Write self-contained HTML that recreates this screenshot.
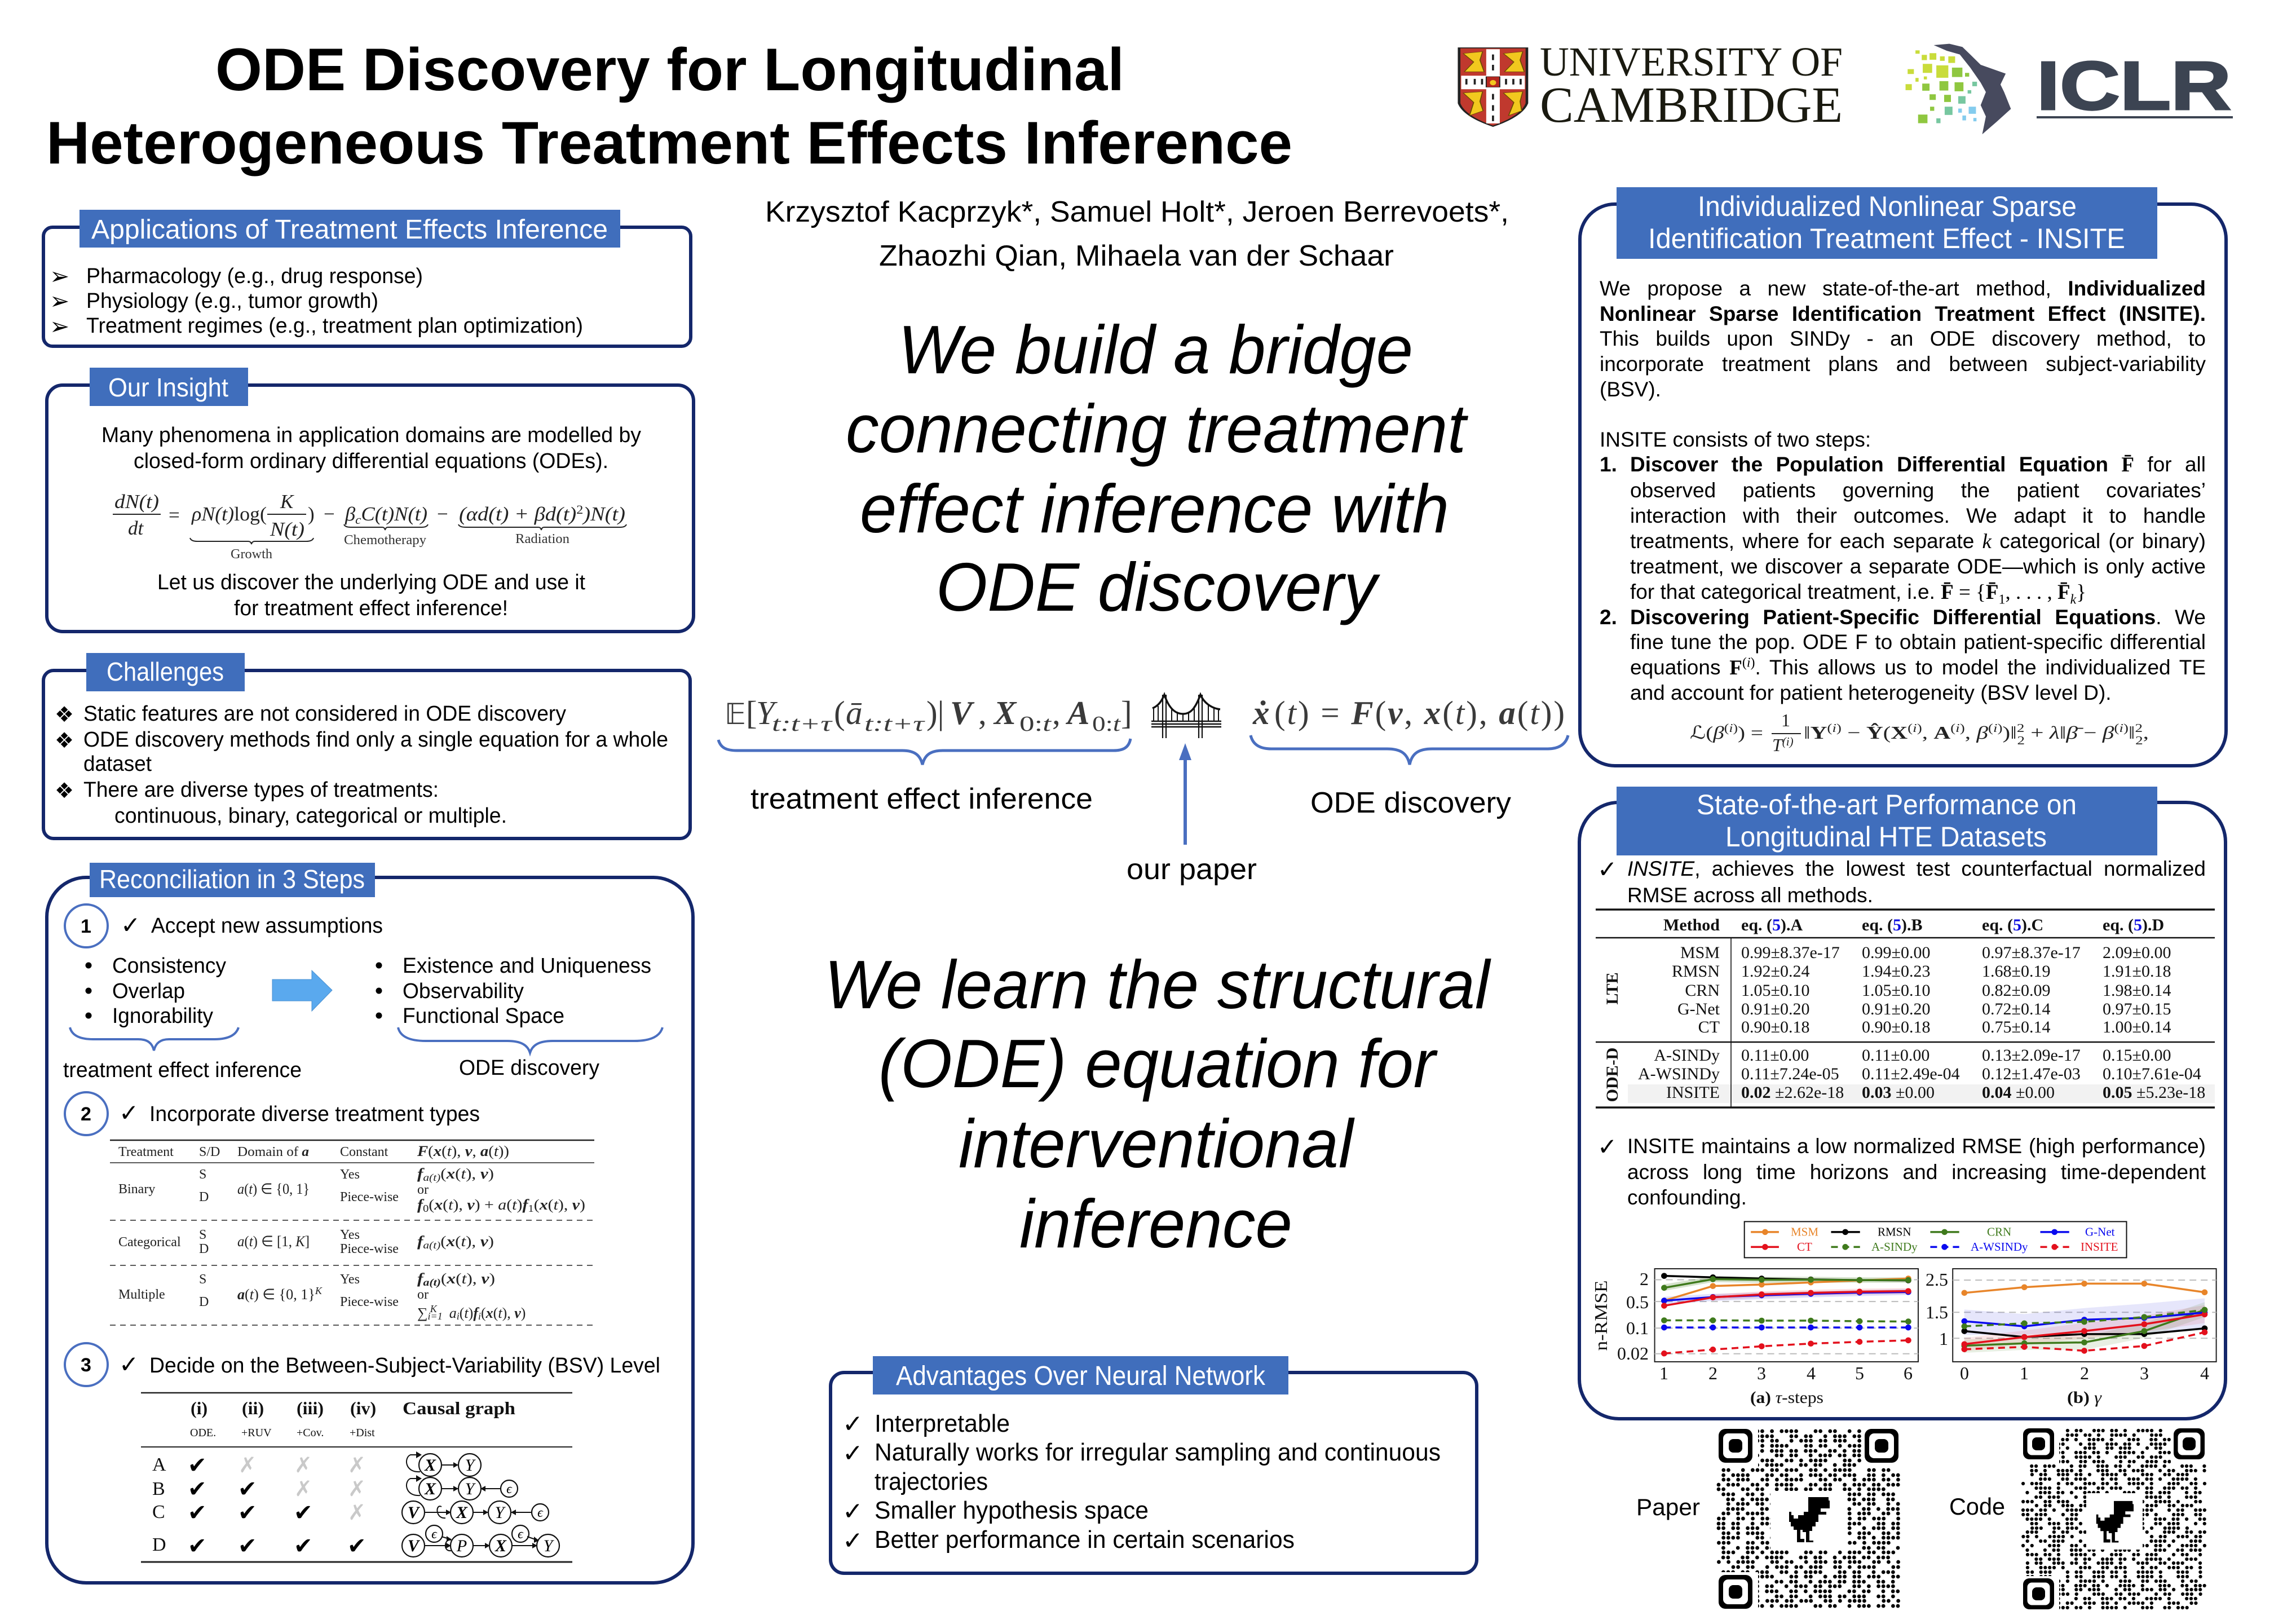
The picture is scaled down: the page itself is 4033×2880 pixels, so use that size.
<!DOCTYPE html>
<html><head><meta charset="utf-8"><title>ODE Discovery for Longitudinal Heterogeneous Treatment Effects Inference</title>
<style>
html,body{margin:0;padding:0;background:#fff}
#p{position:relative;width:4033px;height:2880px;overflow:hidden;background:#fff;font-family:"Liberation Sans",sans-serif;color:#000}
svg{position:absolute;left:0;top:0}
.j{position:absolute;font-size:37px;line-height:37px;height:37px;white-space:nowrap;text-align:justify;text-align-last:justify}
.l{text-align:left;text-align-last:left}
.m{font-family:"Liberation Serif",serif}
text{font-family:"Liberation Sans",sans-serif}
.f text,text.f{font-family:"Liberation Serif",serif}
.w{fill:#fff}
.d{font-family:"DejaVu Sans",sans-serif !important}
.pn{fill:#fff;stroke:#14276b;stroke-width:6}
.hd{fill:#406ebc}
.br{fill:none;stroke:#4a6fc0;stroke-width:4}
.i{font-style:italic}.b{font-weight:bold}
</style></head><body><div id="p">
<svg width="4033" height="2880" viewBox="0 0 4033 2880" xmlns="http://www.w3.org/2000/svg">
<defs>
<marker id="mo" markerUnits="userSpaceOnUse" markerWidth="20" markerHeight="30" refX="10" refY="15"><ellipse cx="10" cy="15" rx="7" ry="10" fill="#e8852a"/></marker>
<marker id="mk" markerUnits="userSpaceOnUse" markerWidth="20" markerHeight="30" refX="10" refY="15"><ellipse cx="10" cy="15" rx="7" ry="10" fill="#000"/></marker>
<marker id="mg" markerUnits="userSpaceOnUse" markerWidth="20" markerHeight="30" refX="10" refY="15"><ellipse cx="10" cy="15" rx="7" ry="10" fill="#3f7a1c"/></marker>
<marker id="mb" markerUnits="userSpaceOnUse" markerWidth="20" markerHeight="30" refX="10" refY="15"><ellipse cx="10" cy="15" rx="7" ry="10" fill="#0a0aee"/></marker>
<marker id="mr" markerUnits="userSpaceOnUse" markerWidth="20" markerHeight="30" refX="10" refY="15"><ellipse cx="10" cy="15" rx="7" ry="10" fill="#e3101c"/></marker>
<path id="qa" d="M0 0H319" fill="none" stroke="#000" stroke-width="6.8" stroke-linecap="round" stroke-dasharray="0 8.6 0 17.2 0 8.6 0 8.6 0 25.8 0 8.6 0 17.2 0 17.2 0 8.6 0 8.6 0 8.6 0 34.4 0 8.6 0 17.2 0 8.6 0 25.8 0 17.2 0 8.6 0 8.6 0 17.2"/>
<path id="qb" d="M0 0H322" fill="none" stroke="#000" stroke-width="6.2" stroke-linecap="round" stroke-dasharray="0 7.85 0 7.85 0 23.55 0 7.85 0 15.7 0 7.85 0 7.85 0 31.4 0 15.7 0 7.85 0 23.55 0 7.85 0 7.85 0 15.7 0 7.85 0 15.7 0 23.55 0 7.85 0 7.85 0 7.85 0 15.7 0 31.4"/>
<path id="dino" d="M34 0H70V6H72V20H56V26H66V31H52V44H47V52H41V60H36V77H43V80H30V62H24V58H20V74H27V80H14V58H8V52H3V44H0V26H4V32H8V38H16V32H26V26H34Z"/>
</defs>

<!-- Title -->
<text x="382" y="160" font-size="107" class="b" textLength="1612" lengthAdjust="spacingAndGlyphs">ODE Discovery for Longitudinal</text>
<text x="82" y="290" font-size="107" class="b" textLength="2210" lengthAdjust="spacingAndGlyphs">Heterogeneous Treatment Effects Inference</text>

<!-- Logos -->
<g transform="translate(2560,40) scale(.925,.333)">
<path d="M30 135H160V430Q150 500 95 552Q40 500 30 430Z" fill="#c0392e" stroke="#222" stroke-width="5"/>
<rect x="82" y="142" width="26" height="395" fill="#fff"/><rect x="34" y="283" width="122" height="72" fill="#fff"/>
<g fill="#f2c81e" stroke="#6b4e00" stroke-width="2">
<path d="M38 165L75 155L70 200L78 262L40 262L58 210Z"/><path d="M115 165L152 155L147 200L155 262L117 262L135 210Z"/>
<path d="M38 375L75 368L70 420L76 470L50 495L58 425Z"/><path d="M115 375L152 368L147 420L150 470L125 495L135 425Z"/>
</g>
<rect x="82" y="288" width="26" height="56" fill="#b5271f" stroke="#222" stroke-width="2"/><ellipse cx="95" cy="320" rx="6" ry="14" fill="#f2c81e"/>
<g fill="#222"><rect x="42" y="300" width="4" height="30"/><rect x="58" y="300" width="4" height="30"/><rect x="72" y="300" width="4" height="30"/><rect x="118" y="300" width="4" height="30"/><rect x="132" y="300" width="4" height="30"/><rect x="146" y="300" width="4" height="30"/><rect x="93" y="170" width="4" height="30"/><rect x="93" y="225" width="4" height="30"/><rect x="93" y="380" width="4" height="30"/><rect x="93" y="440" width="4" height="30"/><rect x="93" y="495" width="4" height="30"/></g>
<path d="M940 120L970 113L995 130L1010 170L1030 225L1078 272L1068 330L1075 370L1088 460L1060 530L1033 595L1040 500L1030 440L1040 370L1030 320L1010 240L990 170L965 150Z" fill="#474a5e"/>
<g fill="#c9dc3a"><rect x="905" y="148" width="8" height="18"/><rect x="917" y="172" width="10" height="28"/><rect x="932" y="163" width="13" height="35"/><rect x="952" y="180" width="9" height="24"/><rect x="968" y="180" width="13" height="35"/><rect x="919" y="220" width="18" height="48"/><rect x="890" y="248" width="12" height="26"/><rect x="945" y="228" width="23" height="66"/><rect x="886" y="328" width="12" height="32"/><rect x="905" y="295" width="6" height="20"/><rect x="921" y="287" width="6" height="16"/></g>
<g fill="#8fc740"><rect x="975" y="240" width="20" height="50"/><rect x="918" y="325" width="14" height="38"/><rect x="951" y="312" width="17" height="50"/><rect x="980" y="318" width="17" height="48"/><rect x="932" y="382" width="12" height="30"/><rect x="960" y="385" width="13" height="38"/><rect x="910" y="490" width="18" height="46"/><rect x="933" y="448" width="8" height="22"/><rect x="1000" y="268" width="8" height="20"/></g>
<g fill="#77c7a0"><rect x="987" y="392" width="14" height="40"/><rect x="961" y="448" width="15" height="44"/><rect x="945" y="510" width="8" height="26"/><rect x="1014" y="315" width="9" height="24"/><rect x="1005" y="360" width="7" height="18"/></g>
<g fill="#84ccee"><rect x="1007" y="448" width="14" height="38"/><rect x="987" y="458" width="7" height="22"/><rect x="995" y="495" width="7" height="26"/><rect x="1016" y="508" width="6" height="18"/></g>
</g>
<text x="2731" y="134" font-size="73" class="f" fill="#1a1a10" textLength="537" lengthAdjust="spacingAndGlyphs">UNIVERSITY OF</text>
<text x="2731" y="216" font-size="90" class="f" fill="#1a1a10" textLength="537" lengthAdjust="spacingAndGlyphs">CAMBRIDGE</text>
<text x="3612" y="194" font-size="122" class="b" fill="#3c4452" stroke="#3c4452" stroke-width="3" textLength="345" lengthAdjust="spacingAndGlyphs">ICLR</text>
<rect x="3612" y="206" width="348" height="4" fill="#3c4452"/>

<!-- Panel 1 -->
<rect class="pn" x="77" y="403" width="1148" height="211" rx="16"/>
<rect class="hd" x="141" y="372" width="959" height="67"/>
<text class="w" x="162" y="423" font-size="48" textLength="916" lengthAdjust="spacingAndGlyphs">Applications of Treatment Effects Inference</text>
<g><text class="d" font-size="42" x="88" y="504">➢</text><text class="d" font-size="42" x="88" y="548">➢</text><text class="d" font-size="42" x="88" y="593">➢</text></g>
<g font-size="38"><text x="153" y="502" textLength="597" lengthAdjust="spacingAndGlyphs">Pharmacology (e.g., drug response)</text>
<text x="153" y="546" textLength="518" lengthAdjust="spacingAndGlyphs">Physiology (e.g., tumor growth)</text>
<text x="153" y="590" textLength="881" lengthAdjust="spacingAndGlyphs">Treatment regimes (e.g., treatment plan optimization)</text></g>

<!-- Panel 2 -->
<rect class="pn" x="83" y="683" width="1147" height="437" rx="28"/>
<rect class="hd" x="159" y="652" width="281" height="68"/>
<text class="w" x="192" y="703" font-size="46" textLength="213" lengthAdjust="spacingAndGlyphs">Our Insight</text>
<g font-size="38"><text x="180" y="784" textLength="957" lengthAdjust="spacingAndGlyphs">Many phenomena in application domains are modelled by</text>
<text x="237" y="830" textLength="842" lengthAdjust="spacingAndGlyphs">closed-form ordinary differential equations (ODEs).</text>
<text x="279" y="1045" textLength="759" lengthAdjust="spacingAndGlyphs">Let us discover the underlying ODE and use it</text>
<text x="415" y="1091" textLength="486" lengthAdjust="spacingAndGlyphs">for treatment effect inference!</text></g>
<g class="f" font-size="35" fill="#222">
<text x="203" y="901" class="i" textLength="79" lengthAdjust="spacingAndGlyphs">dN(t)</text><rect x="200" y="911" width="85" height="2" fill="#222"/><text x="227" y="948" class="i">dt</text>
<text x="299" y="925">=</text>
<text x="340" y="923" textLength="133" lengthAdjust="spacingAndGlyphs"><tspan class="i">ρN(t)</tspan>log(</text>
<text x="497" y="901" class="i">K</text><rect x="474" y="911" width="69" height="2" fill="#222"/><text x="479" y="950" class="i" textLength="61" lengthAdjust="spacingAndGlyphs">N(t)</text><text x="546" y="923">)</text>
<text x="574" y="923">−</text><text x="612" y="923" class="i" textLength="146" lengthAdjust="spacingAndGlyphs">β<tspan font-size="22" dy="6">c</tspan><tspan dy="-6">C(t)N(t)</tspan></text>
<text x="775" y="923">−</text><text x="814" y="923" textLength="295" lengthAdjust="spacingAndGlyphs"><tspan class="i">(αd(t) + βd(t)</tspan><tspan font-size="22" dy="-12">2</tspan><tspan dy="12" class="i">)N(t)</tspan></text>
<g font-size="24" fill="#333"><text x="409" y="990" textLength="74" lengthAdjust="spacingAndGlyphs">Growth</text><text x="610" y="965" textLength="146" lengthAdjust="spacingAndGlyphs">Chemotherapy</text><text x="914" y="963" textLength="96" lengthAdjust="spacingAndGlyphs">Radiation</text></g>
</g>
<g fill="none" stroke="#222" stroke-width="2">
<path d="M337 954Q339 960 350 960H440Q445 960 446 965Q447 960 452 960H543Q554 960 556 954"/>
<path d="M610 930Q612 935 622 935H678Q682 935 683 940Q684 935 688 935H748Q757 935 759 930"/>
<path d="M813 930Q815 935 826 935H955Q959 935 960 940Q961 935 965 935H1100Q1109 935 1111 930"/></g>

<!-- Panel 3 -->
<rect class="pn" x="77" y="1189" width="1147" height="298" rx="18"/>
<rect class="hd" x="153" y="1158" width="281" height="68"/>
<text class="w" x="189" y="1207" font-size="46" textLength="208" lengthAdjust="spacingAndGlyphs">Challenges</text>
<g><text class="d" font-size="38" x="97" y="1280">❖</text><text class="d" font-size="38" x="97" y="1326">❖</text><text class="d" font-size="38" x="97" y="1415">❖</text></g>
<g font-size="38"><text x="148" y="1278" textLength="856" lengthAdjust="spacingAndGlyphs">Static features are not considered in ODE discovery</text>
<text x="148" y="1324" textLength="1037" lengthAdjust="spacingAndGlyphs">ODE discovery methods find only a single equation for a whole</text>
<text x="148" y="1367" textLength="121" lengthAdjust="spacingAndGlyphs">dataset</text>
<text x="148" y="1413" textLength="630" lengthAdjust="spacingAndGlyphs">There are diverse types of treatments:</text>
<text x="203" y="1459" textLength="696" lengthAdjust="spacingAndGlyphs">continuous, binary, categorical or multiple.</text></g>

<!-- Panel 4 -->
<rect class="pn" x="83" y="1564" width="1146" height="1256" rx="70" style="display:none"/>
<rect class="pn" x="83" y="1556" width="1146" height="1251" rx="70"/>
<rect class="hd" x="159" y="1530" width="506" height="61"/>
<text class="w" x="176" y="1575" font-size="46" textLength="471" lengthAdjust="spacingAndGlyphs">Reconciliation in 3 Steps</text>
<g fill="none" stroke="#4a6fc0" stroke-width="4"><circle cx="153" cy="1642" r="38"/><circle cx="153" cy="1975" r="38"/><circle cx="153" cy="2420" r="38"/></g>
<g font-size="34" class="b"><text x="143" y="1654">1</text><text x="143" y="1987">2</text><text x="143" y="2432">3</text></g>
<g><text class="d" font-size="42" x="214" y="1655">✓</text><text class="d" font-size="42" x="211" y="1988">✓</text><text class="d" font-size="42" x="211" y="2434">✓</text></g>
<g font-size="38"><text x="268" y="1654" textLength="411" lengthAdjust="spacingAndGlyphs">Accept new assumptions</text>
<text x="265" y="1988" textLength="586" lengthAdjust="spacingAndGlyphs">Incorporate diverse treatment types</text>
<text x="265" y="2434" textLength="906" lengthAdjust="spacingAndGlyphs">Decide on the Between-Subject-Variability (BSV) Level</text>
<text x="199" y="1725" textLength="202" lengthAdjust="spacingAndGlyphs">Consistency</text>
<text x="199" y="1770" textLength="129" lengthAdjust="spacingAndGlyphs">Overlap</text>
<text x="199" y="1814" textLength="179" lengthAdjust="spacingAndGlyphs">Ignorability</text>
<text x="714" y="1725" textLength="441" lengthAdjust="spacingAndGlyphs">Existence and Uniqueness</text>
<text x="714" y="1770" textLength="215" lengthAdjust="spacingAndGlyphs">Observability</text>
<text x="714" y="1814" textLength="287" lengthAdjust="spacingAndGlyphs">Functional Space</text>
<text x="112" y="1910" textLength="423" lengthAdjust="spacingAndGlyphs">treatment effect inference</text>
<text x="814" y="1906" textLength="249" lengthAdjust="spacingAndGlyphs">ODE discovery</text></g>
<g fill="#000"><circle cx="157" cy="1712" r="5.5"/><circle cx="157" cy="1757" r="5.5"/><circle cx="157" cy="1801" r="5.5"/><circle cx="672" cy="1712" r="5.5"/><circle cx="672" cy="1757" r="5.5"/><circle cx="672" cy="1801" r="5.5"/></g>
<path d="M483 1737H553V1721L589 1756L553 1793V1775H483Z" fill="#5aa9ee" stroke="#4a90d0" stroke-width="1"/>
<path class="br" d="M124 1822C128 1838 145 1843 165 1843H245C262 1843 270 1850 273 1863C276 1850 284 1843 300 1843H380C400 1843 418 1838 423 1822"/>
<path class="br" d="M706 1822C710 1840 730 1846 755 1846H900C925 1846 936 1854 940 1867C944 1854 955 1846 980 1846H1125C1150 1846 1170 1840 1175 1822"/>

<!-- Table 1 -->
<g stroke="#222" fill="none"><path d="M195 2022H1054" stroke-width="2.5"/><path d="M195 2062H1054" stroke-width="1.5"/><path d="M195 2164H1054M195 2244H1054M195 2350H1054" stroke-width="1.5" stroke-dasharray="10 8"/></g>
<g class="f" font-size="24" fill="#222">
<text x="210" y="2050">Treatment</text><text x="353" y="2050">S/D</text><text x="421" y="2050" textLength="127" lengthAdjust="spacingAndGlyphs">Domain of <tspan class="b i">a</tspan></text><text x="603" y="2050">Constant</text>
<text x="740" y="2050" font-size="26" textLength="163" lengthAdjust="spacingAndGlyphs"><tspan class="b i">F</tspan>(<tspan class="b i">x</tspan>(<tspan class="i">t</tspan>), <tspan class="b i">v</tspan>, <tspan class="b i">a</tspan>(<tspan class="i">t</tspan>))</text>
<text x="210" y="2116">Binary</text><text x="353" y="2090">S</text><text x="353" y="2130">D</text><text x="421" y="2117" font-size="26" textLength="128" lengthAdjust="spacingAndGlyphs"><tspan class="i">a</tspan>(<tspan class="i">t</tspan>) ∈ {0, 1}</text><text x="603" y="2090">Yes</text><text x="603" y="2130">Piece-wise</text>
<text x="740" y="2090" font-size="26" textLength="136" lengthAdjust="spacingAndGlyphs"><tspan class="b i">f</tspan><tspan class="i" font-size="18" dy="4">a(t)</tspan><tspan dy="-4">(</tspan><tspan class="b i">x</tspan>(<tspan class="i">t</tspan>), <tspan class="b i">v</tspan>)</text><text x="740" y="2117">or</text>
<text x="740" y="2145" font-size="26" textLength="298" lengthAdjust="spacingAndGlyphs"><tspan class="b i">f</tspan><tspan font-size="18" dy="4">0</tspan><tspan dy="-4">(</tspan><tspan class="b i">x</tspan>(<tspan class="i">t</tspan>), <tspan class="b i">v</tspan>) + <tspan class="i">a</tspan>(<tspan class="i">t</tspan>)<tspan class="b i">f</tspan><tspan font-size="18" dy="4">1</tspan><tspan dy="-4">(</tspan><tspan class="b i">x</tspan>(<tspan class="i">t</tspan>), <tspan class="b i">v</tspan>)</text>
<text x="210" y="2210">Categorical</text><text x="353" y="2197">S</text><text x="353" y="2222">D</text><text x="421" y="2210" font-size="26" textLength="128" lengthAdjust="spacingAndGlyphs"><tspan class="i">a</tspan>(<tspan class="i">t</tspan>) ∈ [1, <tspan class="i">K</tspan>]</text><text x="603" y="2197">Yes</text><text x="603" y="2222">Piece-wise</text>
<text x="740" y="2210" font-size="26" textLength="136" lengthAdjust="spacingAndGlyphs"><tspan class="b i">f</tspan><tspan class="i" font-size="18" dy="4">a(t)</tspan><tspan dy="-4">(</tspan><tspan class="b i">x</tspan>(<tspan class="i">t</tspan>), <tspan class="b i">v</tspan>)</text>
<text x="210" y="2303">Multiple</text><text x="353" y="2276">S</text><text x="353" y="2316">D</text><text x="421" y="2304" font-size="26" textLength="150" lengthAdjust="spacingAndGlyphs"><tspan class="b i">a</tspan>(<tspan class="i">t</tspan>) ∈ {0, 1}<tspan class="i" font-size="18" dy="-9">K</tspan></text><text x="603" y="2276">Yes</text><text x="603" y="2316">Piece-wise</text>
<text x="740" y="2276" font-size="26" textLength="138" lengthAdjust="spacingAndGlyphs"><tspan class="b i">f</tspan><tspan class="b i" font-size="18" dy="4">a(t)</tspan><tspan dy="-4">(</tspan><tspan class="b i">x</tspan>(<tspan class="i">t</tspan>), <tspan class="b i">v</tspan>)</text><text x="740" y="2303">or</text>
<text x="740" y="2337" font-size="26">∑<tspan class="i" font-size="18" dy="3">i=1</tspan><tspan class="i" font-size="18" dy="-13" dx="-22">K</tspan><tspan dy="10" dx="22"><tspan class="i">a</tspan></tspan><tspan class="i" font-size="18" dy="3">i</tspan><tspan dy="-3">(</tspan><tspan class="i">t</tspan>)<tspan class="b i">f</tspan><tspan class="i" font-size="18" dy="3">i</tspan><tspan dy="-3">(</tspan><tspan class="b i">x</tspan>(<tspan class="i">t</tspan>), <tspan class="b i">v</tspan>)</text>
</g>

<!-- Table 2 -->
<g stroke="#222" fill="none"><path d="M250 2470H1015" stroke-width="2.5"/><path d="M250 2566H1015" stroke-width="2"/><path d="M250 2770H1015" stroke-width="3"/></g>
<g class="f" font-size="32" fill="#111">
<g class="b"><text x="338" y="2508">(i)</text><text x="429" y="2508">(ii)</text><text x="526" y="2508">(iii)</text><text x="621" y="2508">(iv)</text><text x="714" y="2508" textLength="200" lengthAdjust="spacingAndGlyphs">Causal graph</text></g>
<g font-size="20"><text x="337" y="2547">ODE.</text><text x="428" y="2547">+RUV</text><text x="526" y="2547">+Cov.</text><text x="620" y="2547">+Dist</text></g>
<g font-size="34"><text x="270" y="2608">A</text><text x="270" y="2651">B</text><text x="270" y="2692">C</text><text x="270" y="2750">D</text></g>
</g>
<g fill="#000">
<g font-size="40"><text class="d" x="333" y="2612">✔</text><text class="d" x="333" y="2654">✔</text><text class="d" x="333" y="2696">✔</text><text class="d" x="333" y="2755">✔</text>
<text class="d" x="422" y="2654">✔</text><text class="d" x="422" y="2696">✔</text><text class="d" x="422" y="2755">✔</text>
<text class="d" x="521" y="2696">✔</text><text class="d" x="521" y="2755">✔</text><text class="d" x="616" y="2755">✔</text></g>
<g font-size="38"><text class="d" x="423" y="2611" fill="#c9c9c9">✗</text><text class="d" x="522" y="2611" fill="#c9c9c9">✗</text><text class="d" x="617" y="2611" fill="#c9c9c9">✗</text><text class="d" x="522" y="2653" fill="#c9c9c9">✗</text><text class="d" x="617" y="2653" fill="#c9c9c9">✗</text><text class="d" x="617" y="2695" fill="#c9c9c9">✗</text></g>
</g>
<!-- graphs -->
<g fill="#fff" stroke="#111" stroke-width="2.2">
<circle cx="763" cy="2598" r="20"/><circle cx="833" cy="2598" r="20"/>
<circle cx="763" cy="2640" r="20"/><circle cx="833" cy="2640" r="20"/><circle cx="903" cy="2640" r="15"/>
<circle cx="733" cy="2682" r="20"/><circle cx="819" cy="2682" r="20"/><circle cx="886" cy="2682" r="20"/><circle cx="958" cy="2682" r="15"/>
<circle cx="733" cy="2741" r="20"/><circle cx="819" cy="2741" r="20"/><circle cx="888" cy="2741" r="20"/><circle cx="972" cy="2741" r="20"/><circle cx="770" cy="2720" r="15"/><circle cx="923" cy="2720" r="15"/>
</g>
<g fill="none" stroke="#111" stroke-width="2">
<path d="M745 2610C718 2612 716 2585 728 2580H745M745 2652C718 2654 716 2627 728 2622H745"/>
<path d="M783 2598H812M783 2640H812M853 2640H888"/>
<path d="M753 2682H799M783 2672C772 2666 772 2694 790 2692M839 2682H865M906 2682H943"/>
<path d="M753 2741H799M783 2725L800 2730M839 2741H868M800 2731C788 2728 785 2752 800 2750M908 2741H952M935 2725L955 2732"/></g>
<g fill="#111">
<path d="M738 2574L748 2580L738 2586ZM738 2616L748 2622L738 2628Z"/>
<path d="M804 2593L813 2598L804 2603ZM804 2635L813 2640L804 2645ZM861 2635L852 2640L861 2645ZM791 2677L800 2682L791 2687ZM857 2677L866 2682L857 2687ZM915 2677L906 2682L915 2687ZM791 2736L800 2741L791 2746ZM860 2736L869 2741L860 2746ZM944 2736L953 2741L944 2746ZM792 2724L801 2730L792 2734ZM947 2725L956 2732L947 2736Z"/></g>
<g class="f" font-size="30" text-anchor="middle">
<text class="b i" x="763" y="2608">X</text><text class="i" x="833" y="2608">Y</text><text class="b i" x="763" y="2650">X</text><text class="i" x="833" y="2650">Y</text><text class="i" x="903" y="2648" font-size="24">ϵ</text>
<text class="b i" x="733" y="2692">V</text><text class="b i" x="819" y="2692">X</text><text class="i" x="886" y="2692">Y</text><text class="i" x="958" y="2690" font-size="24">ϵ</text>
<text class="b i" x="733" y="2751">V</text><text class="i" x="819" y="2751">P</text><text class="b i" x="888" y="2751">X</text><text class="i" x="972" y="2751">Y</text><text class="i" x="770" y="2728" font-size="24">ϵ</text><text class="i" x="923" y="2728" font-size="24">ϵ</text>
</g>

<!-- Center -->
<g font-size="52" transform="translate(-8,-5)"><text x="1365" y="398" textLength="1319" lengthAdjust="spacingAndGlyphs">Krzysztof Kacprzyk*, Samuel Holt*, Jeroen Berrevoets*,</text>
<text x="1567" y="476" textLength="913" lengthAdjust="spacingAndGlyphs">Zhaozhi Qian, Mihaela van der Schaar</text></g>
<g font-size="122" class="i" transform="translate(-10,-5)">
<text x="1603" y="667" textLength="913" lengthAdjust="spacingAndGlyphs">We build a bridge</text>
<text x="1510" y="807" textLength="1100" lengthAdjust="spacingAndGlyphs">connecting treatment</text>
<text x="1535" y="949" textLength="1045" lengthAdjust="spacingAndGlyphs">effect inference with</text>
<text x="1670" y="1088" textLength="782" lengthAdjust="spacingAndGlyphs">ODE discovery</text>
</g>
<g font-size="122" class="i" transform="translate(-9,-11)">
<text x="1471" y="1799" textLength="1180" lengthAdjust="spacingAndGlyphs">We learn the structural</text>
<text x="1567" y="1939" textLength="988" lengthAdjust="spacingAndGlyphs">(ODE) equation for</text>
<text x="1709" y="2081" textLength="700" lengthAdjust="spacingAndGlyphs">interventional</text>
<text x="1817" y="2223" textLength="484" lengthAdjust="spacingAndGlyphs">inference</text>
</g>
<!-- Center equation -->
<g transform="translate(-10,-6)">
<g class="f" font-size="59" fill="#3a3a3a" transform="translate(3,4)">
<text class="d" x="1292" y="1286" font-size="52">𝔼</text><text x="1330" y="1286">[</text><text class="i" x="1348" y="1286">Y</text><text class="i" x="1376" y="1298" font-size="38" textLength="106" lengthAdjust="spacingAndGlyphs">t:t+τ</text><text x="1486" y="1286">(</text><text class="i" x="1507" y="1286">ā</text><text class="i" x="1540" y="1298" font-size="38" textLength="106" lengthAdjust="spacingAndGlyphs">t:t+τ</text><text x="1650" y="1286">)|</text>
<text class="b i" x="1692" y="1286">V</text><text x="1742" y="1286">,</text><text class="b i" x="1770" y="1286">X</text><text x="1815" y="1298" font-size="38" textLength="56" lengthAdjust="spacingAndGlyphs">0:<tspan class="i">t</tspan></text><text x="1873" y="1286">,</text><text class="b i" x="1900" y="1286">A</text><text x="1944" y="1298" font-size="38" textLength="50" lengthAdjust="spacingAndGlyphs">0:<tspan class="i">t</tspan></text><text x="1995" y="1286">]</text>
<text x="2229" y="1286" class="b i">ẋ</text><text x="2267" y="1286" textLength="515" lengthAdjust="spacing">(<tspan class="i">t</tspan>) = <tspan class="b i">F</tspan>(<tspan class="b i">v</tspan>, <tspan class="b i">x</tspan>(<tspan class="i">t</tspan>), <tspan class="b i">a</tspan>(<tspan class="i">t</tspan>))</text>
</g>
<g fill="none" stroke="#111" transform="translate(8,0)">
<path d="M2064 1238V1315M2070 1238V1315M2128 1238V1315M2134 1238V1315" stroke-width="2.2"/>
<path d="M2046 1262C2056 1258 2062 1250 2067 1238C2075 1262 2086 1272 2100 1272C2114 1272 2122 1262 2131 1238C2137 1252 2150 1262 2166 1264" stroke-width="3.5"/>
<path d="M2044 1285H2168M2044 1290H2168M2044 1295H2168" stroke-width="2.6"/>
<path d="M2048 1263V1285M2056 1258V1285M2080 1262V1285M2090 1268V1285M2100 1272V1285M2110 1268V1285M2120 1258V1285M2145 1256V1285M2155 1260V1285M2163 1263V1285" stroke-width="2"/>
</g>
<path d="M1284 1318C1288 1332 1298 1337 1317 1337H1610C1632 1337 1642 1345 1646 1362C1650 1345 1660 1337 1682 1337H1985C2002 1337 2012 1332 2015 1316" fill="none" stroke="#4a6fc0" stroke-width="5"/>
<path d="M2228 1310C2232 1327 2245 1334 2265 1334H2470C2494 1334 2506 1342 2510 1362C2514 1342 2526 1334 2550 1334H2755C2773 1334 2787 1327 2791 1310" fill="none" stroke="#4a6fc0" stroke-width="5"/>
<path d="M2112 1352V1504" stroke="#4a6fc0" stroke-width="6" fill="none"/><path d="M2112 1324L2123 1354H2101Z" fill="#4a6fc0"/>
<g font-size="52"><text x="1341" y="1440" textLength="607" lengthAdjust="spacingAndGlyphs">treatment effect inference</text>
<text x="2334" y="1447" textLength="356" lengthAdjust="spacingAndGlyphs">ODE discovery</text>
<text x="2008" y="1565" textLength="231" lengthAdjust="spacingAndGlyphs">our paper</text></g>
</g>

<!-- Advantages -->
<g transform="translate(-8,-11)">
<rect class="pn" x="1481" y="2445" width="1146" height="356" rx="24"/>
<rect class="hd" x="1556" y="2416" width="737" height="68"/>
<text class="w" x="1597" y="2467" font-size="48" textLength="655" lengthAdjust="spacingAndGlyphs">Advantages Over Neural Network</text>
<g><text class="d" font-size="44" x="1502" y="2551">✓</text><text class="d" font-size="44" x="1502" y="2603">✓</text><text class="d" font-size="44" x="1502" y="2706">✓</text><text class="d" font-size="44" x="1502" y="2758">✓</text></g>
<g font-size="44"><text x="1559" y="2550" textLength="240" lengthAdjust="spacingAndGlyphs">Interpretable</text>
<text x="1559" y="2601" textLength="1004" lengthAdjust="spacingAndGlyphs">Naturally works for irregular sampling and continuous</text>
<text x="1559" y="2653" textLength="201" lengthAdjust="spacingAndGlyphs">trajectories</text>
<text x="1559" y="2704" textLength="486" lengthAdjust="spacingAndGlyphs">Smaller hypothesis space</text>
<text x="1559" y="2756" textLength="745" lengthAdjust="spacingAndGlyphs">Better performance in certain scenarios</text></g>
</g>

<g transform="translate(-13,0)">
<!-- INSITE panel -->
<rect class="pn" x="2815" y="362" width="1146" height="996" rx="62"/>
<rect class="hd" x="2880" y="332" width="959" height="127"/>
<g font-size="50"><text class="w" x="3024" y="383" textLength="672" lengthAdjust="spacingAndGlyphs">Individualized Nonlinear Sparse</text>
<text class="w" x="2936" y="440" textLength="846" lengthAdjust="spacingAndGlyphs">Identification Treatment Effect  - INSITE</text></g>
<g class="b" font-size="37"><text x="2850" y="836">1.</text><text x="2850" y="1107">2.</text></g>
<!-- loss -->
<g class="f" font-size="32" fill="#222">
<text x="3010" y="1310" textLength="130" lengthAdjust="spacingAndGlyphs">ℒ(<tspan class="i">β</tspan><tspan font-size="21" dy="-12">(<tspan class="i">i</tspan>)</tspan><tspan dy="12">) =</tspan></text>
<text x="3172" y="1288">1</text><rect x="3155" y="1300" width="52" height="2" fill="#222"/><text x="3156" y="1332" class="i">T<tspan font-size="21" dy="-10">(i)</tspan></text>
<text x="3212" y="1310" textLength="612" lengthAdjust="spacingAndGlyphs">‖<tspan class="b">Y</tspan><tspan font-size="21" dy="-12">(<tspan class="i">i</tspan>)</tspan><tspan dy="12"> − </tspan><tspan class="b">Ŷ</tspan>(<tspan class="b">X</tspan><tspan font-size="21" dy="-12">(<tspan class="i">i</tspan>)</tspan><tspan dy="12">, </tspan><tspan class="b">A</tspan><tspan font-size="21" dy="-12">(<tspan class="i">i</tspan>)</tspan><tspan dy="12">, </tspan><tspan class="i">β</tspan><tspan font-size="21" dy="-12">(<tspan class="i">i</tspan>)</tspan><tspan dy="12">)‖</tspan><tspan font-size="21" dy="-12">2</tspan><tspan font-size="21" dy="22" dx="-10">2</tspan><tspan dy="-10"> + </tspan><tspan class="i">λ</tspan>‖<tspan class="i">β̄</tspan> − <tspan class="i">β</tspan><tspan font-size="21" dy="-12">(<tspan class="i">i</tspan>)</tspan><tspan dy="12">‖</tspan><tspan font-size="21" dy="-12">2</tspan><tspan font-size="21" dy="22" dx="-10">2</tspan><tspan dy="-10">,</tspan></text>
</g>

<!-- Performance panel -->
<rect class="pn" x="2814" y="1423" width="1146" height="1093" rx="70"/>
<rect class="hd" x="2880" y="1395" width="959" height="122"/>
<g font-size="50"><text class="w" x="3022" y="1444" textLength="674" lengthAdjust="spacingAndGlyphs">State-of-the-art Performance on</text>
<text class="w" x="3073" y="1501" textLength="570" lengthAdjust="spacingAndGlyphs">Longitudinal HTE Datasets</text></g>
<g><text class="d" font-size="42" x="2846" y="1556">✓</text><text class="d" font-size="42" x="2846" y="2048">✓</text></g>
<rect x="2900" y="1923" width="1041" height="33" fill="#f2f2f2"/>
<g stroke="#111" fill="none"><path d="M2843 1613H3941M2843 1964H3941" stroke-width="3.5"/><path d="M2843 1663H3941M2843 1848H3941" stroke-width="2.5"/><path d="M3083 1663V1964" stroke-width="1.6"/></g>
<g class="f" font-size="30" fill="#111">
<g class="b" text-anchor="end"><text x="3063" y="1650">Method</text></g>
<g class="b"><text x="3101" y="1650">eq. (<tspan fill="#1010e0">5</tspan>).A</text><text x="3315" y="1650">eq. (<tspan fill="#1010e0">5</tspan>).B</text><text x="3528" y="1650">eq. (<tspan fill="#1010e0">5</tspan>).C</text><text x="3742" y="1650">eq. (<tspan fill="#1010e0">5</tspan>).D</text></g>
<g text-anchor="end"><text x="3063" y="1699">MSM</text><text x="3063" y="1732">RMSN</text><text x="3063" y="1766">CRN</text><text x="3063" y="1799">G-Net</text><text x="3063" y="1831">CT</text><text x="3063" y="1881">A-SINDy</text><text x="3063" y="1914">A-WSINDy</text><text x="3063" y="1947">INSITE</text></g>
<text x="3101" y="1699">0.99±8.37e-17</text><text x="3315" y="1699">0.99±0.00</text><text x="3528" y="1699">0.97±8.37e-17</text><text x="3742" y="1699">2.09±0.00</text>
<text x="3101" y="1732">1.92±0.24</text><text x="3315" y="1732">1.94±0.23</text><text x="3528" y="1732">1.68±0.19</text><text x="3742" y="1732">1.91±0.18</text>
<text x="3101" y="1766">1.05±0.10</text><text x="3315" y="1766">1.05±0.10</text><text x="3528" y="1766">0.82±0.09</text><text x="3742" y="1766">1.98±0.14</text>
<text x="3101" y="1799">0.91±0.20</text><text x="3315" y="1799">0.91±0.20</text><text x="3528" y="1799">0.72±0.14</text><text x="3742" y="1799">0.97±0.15</text>
<text x="3101" y="1831">0.90±0.18</text><text x="3315" y="1831">0.90±0.18</text><text x="3528" y="1831">0.75±0.14</text><text x="3742" y="1831">1.00±0.14</text>
<text x="3101" y="1881">0.11±0.00</text><text x="3315" y="1881">0.11±0.00</text><text x="3528" y="1881">0.13±2.09e-17</text><text x="3742" y="1881">0.15±0.00</text>
<text x="3101" y="1914">0.11±7.24e-05</text><text x="3315" y="1914">0.11±2.49e-04</text><text x="3528" y="1914">0.12±1.47e-03</text><text x="3742" y="1914">0.10±7.61e-04</text>
<text x="3101" y="1947"><tspan class="b">0.02</tspan> ±2.62e-18</text><text x="3315" y="1947"><tspan class="b">0.03</tspan> ±0.00</text><text x="3528" y="1947"><tspan class="b">0.04</tspan> ±0.00</text><text x="3742" y="1947"><tspan class="b">0.05</tspan> ±5.23e-18</text>
<g class="b" text-anchor="middle"><text transform="translate(2882,1753) rotate(-90)">LTE</text><text transform="translate(2882,1906) rotate(-90)">ODE-D</text></g>
</g>
</g>

<!-- Legend & charts -->
<g transform="translate(2790,2050) scale(.765,.529)">
<rect x="397" y="220" width="886" height="121" fill="#fff" stroke="#111" stroke-width="2" vector-effect="non-scaling-stroke"/>
<rect x="189" y="378" width="611" height="312" fill="#fff" stroke="#222" stroke-width="2" vector-effect="non-scaling-stroke"/>
<rect x="880" y="378" width="611" height="312" fill="#fff" stroke="#222" stroke-width="2" vector-effect="non-scaling-stroke"/>
<g fill="none" stroke="#bbb" stroke-width="2" stroke-dasharray="12 8" vector-effect="non-scaling-stroke"><path d="M189 415H800M189 488H800M189 577H800M189 663H800M880 416H1491M880 524H1491M880 611H1491" vector-effect="non-scaling-stroke"/></g>
<g stroke="none"><path d="M211 472L324 462L437 458L551 454L664 450L777 446V466L664 470L551 474L437 480L324 486L211 498Z" fill="#2020e0" opacity=".14"/>
<path d="M211 430L324 403L437 405L551 405L664 407L777 407V425L664 425L551 425L437 425L324 423L211 452Z" fill="#3f7a1c" opacity=".22"/>
<path d="M324 464L437 454L551 449L664 445L777 443V463L664 465L551 469L437 474L324 484Z" fill="#e3101c" opacity=".14"/>
<path d="M907 515L1046 530L1185 510L1324 495L1464 477V575L1324 600L1185 590L1046 600L907 600Z" fill="#3030e0" opacity=".12"/>
<path d="M907 610L1046 585L1185 560L1324 535L1464 500V560L1324 590L1185 612L1046 630L907 655Z" fill="#e3101c" opacity=".1"/>
<path d="M907 615L1046 610L1185 605L1324 560L1464 490V540L1324 610L1185 650L1046 650L907 660Z" fill="#3f7a1c" opacity=".12"/></g>
<g fill="none" stroke-width="3.5">
<path vector-effect="non-scaling-stroke" stroke="#e8852a" marker-start="url(#mo)" marker-mid="url(#mo)" marker-end="url(#mo)" d="M211 485L324 436L437 431L551 424L664 417L777 411"/>
<path vector-effect="non-scaling-stroke" stroke="#000" marker-start="url(#mk)" marker-mid="url(#mk)" marker-end="url(#mk)" d="M211 402L324 407L437 411L551 414L664 416L777 417"/>
<path vector-effect="non-scaling-stroke" stroke="#3f7a1c" marker-start="url(#mg)" marker-mid="url(#mg)" marker-end="url(#mg)" d="M211 442L324 413L437 415L551 415L664 416L777 416"/>
<path vector-effect="non-scaling-stroke" stroke="#0a0aee" marker-start="url(#mb)" marker-mid="url(#mb)" marker-end="url(#mb)" d="M211 485L324 473L437 467L551 462L664 458L777 456"/>
<path vector-effect="non-scaling-stroke" stroke="#e3101c" marker-start="url(#mr)" marker-mid="url(#mr)" marker-end="url(#mr)" d="M211 502L324 474L437 464L551 459L664 455L777 453"/>
<path vector-effect="non-scaling-stroke" stroke="#3f7a1c" stroke-dasharray="12 8" marker-start="url(#mg)" marker-mid="url(#mg)" marker-end="url(#mg)" d="M211 551L324 551L437 552L551 552L664 554L777 555"/>
<path vector-effect="non-scaling-stroke" stroke="#0a0aee" stroke-dasharray="12 8" marker-start="url(#mb)" marker-mid="url(#mb)" marker-end="url(#mb)" d="M211 575L324 575L437 575L551 575L664 575L777 575"/>
<path vector-effect="non-scaling-stroke" stroke="#e3101c" stroke-dasharray="12 8" marker-start="url(#mr)" marker-mid="url(#mr)" marker-end="url(#mr)" d="M211 662L324 649L437 638L551 629L664 623L777 618"/>
<path vector-effect="non-scaling-stroke" stroke="#e8852a" marker-start="url(#mo)" marker-mid="url(#mo)" marker-end="url(#mo)" d="M907 459L1046 440L1185 428L1324 428L1464 457"/>
<path vector-effect="non-scaling-stroke" stroke="#000" marker-start="url(#mk)" marker-mid="url(#mk)" marker-end="url(#mk)" d="M907 587L1046 607L1185 597L1324 597L1464 578"/>
<path vector-effect="non-scaling-stroke" stroke="#3f7a1c" marker-start="url(#mg)" marker-mid="url(#mg)" marker-end="url(#mg)" d="M907 636L1046 628L1185 625L1324 587L1464 516"/>
<path vector-effect="non-scaling-stroke" stroke="#0a0aee" marker-start="url(#mb)" marker-mid="url(#mb)" marker-end="url(#mb)" d="M907 554L1046 571L1185 549L1324 543L1464 525"/>
<path vector-effect="non-scaling-stroke" stroke="#e3101c" marker-start="url(#mr)" marker-mid="url(#mr)" marker-end="url(#mr)" d="M907 631L1046 607L1185 587L1324 564L1464 531"/>
<path vector-effect="non-scaling-stroke" stroke="#3f7a1c" stroke-dasharray="12 8" marker-start="url(#mg)" marker-mid="url(#mg)" marker-end="url(#mg)" d="M907 571L1046 561L1185 556L1324 540L1464 516"/>
<path vector-effect="non-scaling-stroke" stroke="#e3101c" stroke-dasharray="12 8" marker-start="url(#mr)" marker-mid="url(#mr)" marker-end="url(#mr)" d="M907 648L1046 640L1185 653L1324 637L1464 591"/>
<path vector-effect="non-scaling-stroke" stroke="#e8852a" marker-mid="url(#mo)" d="M412 255L445 255L477 255"/>
<path vector-effect="non-scaling-stroke" stroke="#000" marker-mid="url(#mk)" d="M598 255L631 255L665 255"/>
<path vector-effect="non-scaling-stroke" stroke="#3f7a1c" marker-mid="url(#mg)" d="M828 255L861 255L895 255"/>
<path vector-effect="non-scaling-stroke" stroke="#0a0aee" marker-mid="url(#mb)" d="M1083 255L1116 255L1150 255"/>
<path vector-effect="non-scaling-stroke" stroke="#e3101c" marker-mid="url(#mr)" d="M412 305L445 305L477 305"/>
<path vector-effect="non-scaling-stroke" stroke="#3f7a1c" stroke-dasharray="12 8" marker-mid="url(#mg)" d="M598 305L631 305L665 305"/>
<path vector-effect="non-scaling-stroke" stroke="#0a0aee" stroke-dasharray="12 8" marker-mid="url(#mb)" d="M828 305L861 305L895 305"/>
<path vector-effect="non-scaling-stroke" stroke="#e3101c" stroke-dasharray="12 8" marker-mid="url(#mr)" d="M1083 305L1116 305L1150 305"/>
</g></g>
<g class="f" font-size="21">
<text x="3176" y="2191.5" fill="#e8852a">MSM</text><text x="3330" y="2191.5">RMSN</text><text x="3524" y="2191.5" fill="#3f7a1c">CRN</text><text x="3698" y="2191.5" fill="#0a0aee">G-Net</text>
<text x="3187" y="2218" fill="#e3101c">CT</text><text x="3319" y="2218" fill="#3f7a1c">A-SINDy</text><text x="3495" y="2218" fill="#0a0aee">A-WSINDy</text><text x="3690" y="2218" fill="#e3101c">INSITE</text>
</g>
<g class="f" font-size="32" fill="#111">
<g text-anchor="end"><text x="2924" y="2279">2</text><text x="2924" y="2320">0.5</text><text x="2924" y="2366">0.1</text><text x="2924" y="2411">0.02</text><text x="3455" y="2280">2.5</text><text x="3455" y="2338">1.5</text><text x="3455" y="2385">1</text></g>
<g text-anchor="middle"><text x="2951" y="2446">1</text><text x="3038" y="2446">2</text><text x="3124" y="2446">3</text><text x="3212" y="2446">4</text><text x="3298" y="2446">5</text><text x="3384" y="2446">6</text>
<text x="3484" y="2446">0</text><text x="3590" y="2446">1</text><text x="3697" y="2446">2</text><text x="3803" y="2446">3</text><text x="3910" y="2446">4</text></g>
<text x="3104" y="2488" font-size="30" textLength="130" lengthAdjust="spacingAndGlyphs"><tspan class="b">(a)</tspan> <tspan class="i">τ</tspan>-steps</text><text x="3666" y="2488" font-size="30" textLength="61" lengthAdjust="spacingAndGlyphs"><tspan class="b">(b)</tspan> <tspan class="i">γ</tspan></text>
<text transform="translate(2850,2333) rotate(-90)" text-anchor="middle" font-size="32" textLength="125" lengthAdjust="spacingAndGlyphs">n-RMSE</text>
</g>

<!-- QR labels -->
<text x="2902" y="2687" font-size="42" textLength="113" lengthAdjust="spacingAndGlyphs">Paper</text>
<text x="3457" y="2686" font-size="42" textLength="99" lengthAdjust="spacingAndGlyphs">Code</text>

<!-- QR Paper -->
<g transform="translate(3048,2534)">
<g>
<use href="#qa" y="4" stroke-dashoffset="0"/><use href="#qa" y="13" stroke-dashoffset="43"/><use href="#qa" y="21" stroke-dashoffset="103"/><use href="#qa" y="30" stroke-dashoffset="17"/><use href="#qa" y="39" stroke-dashoffset="155"/><use href="#qa" y="47" stroke-dashoffset="69"/><use href="#qa" y="56" stroke-dashoffset="232"/><use href="#qa" y="64" stroke-dashoffset="26"/><use href="#qa" y="73" stroke-dashoffset="189"/><use href="#qa" y="82" stroke-dashoffset="86"/><use href="#qa" y="90" stroke-dashoffset="275"/><use href="#qa" y="99" stroke-dashoffset="8.6"/><use href="#qa" y="107" stroke-dashoffset="129"/><use href="#qa" y="116" stroke-dashoffset="301"/><use href="#qa" y="125" stroke-dashoffset="52"/><use href="#qa" y="133" stroke-dashoffset="215"/><use href="#qa" y="142" stroke-dashoffset="95"/><use href="#qa" y="150" stroke-dashoffset="344"/><use href="#qa" y="159" stroke-dashoffset="34"/><use href="#qa" y="168" stroke-dashoffset="172"/><use href="#qa" y="176" stroke-dashoffset="258"/><use href="#qa" y="185" stroke-dashoffset="60"/><use href="#qa" y="193" stroke-dashoffset="387"/><use href="#qa" y="202" stroke-dashoffset="120"/><use href="#qa" y="211" stroke-dashoffset="198"/><use href="#qa" y="219" stroke-dashoffset="17"/><use href="#qa" y="228" stroke-dashoffset="310"/><use href="#qa" y="236" stroke-dashoffset="77"/><use href="#qa" y="245" stroke-dashoffset="146"/><use href="#qa" y="254" stroke-dashoffset="241"/><use href="#qa" y="262" stroke-dashoffset="43"/><use href="#qa" y="271" stroke-dashoffset="353"/><use href="#qa" y="279" stroke-dashoffset="112"/><use href="#qa" y="288" stroke-dashoffset="224"/><use href="#qa" y="297" stroke-dashoffset="69"/><use href="#qa" y="305" stroke-dashoffset="163"/><use href="#qa" y="314" stroke-dashoffset="284"/>
</g>
<rect x="-4" y="-4" width="74" height="72" fill="#fff"/><rect x="254" y="-4" width="70" height="72" fill="#fff"/><rect x="-4" y="254" width="74" height="72" fill="#fff"/><rect x="92" y="110" width="136" height="105" fill="#fff"/>
<g><rect width="60" height="60" rx="12"/><rect x="8" y="8" width="44" height="44" rx="9" fill="#fff"/><rect x="18" y="18" width="24" height="24" rx="8"/>
<g transform="translate(259,0)"><rect width="60" height="60" rx="12"/><rect x="8" y="8" width="44" height="44" rx="9" fill="#fff"/><rect x="18" y="18" width="24" height="24" rx="8"/></g>
<g transform="translate(0,259)"><rect width="60" height="60" rx="12"/><rect x="8" y="8" width="44" height="44" rx="9" fill="#fff"/><rect x="18" y="18" width="24" height="24" rx="8"/></g></g>
<use href="#dino" x="125" y="121"/>
</g>
<!-- QR Code -->
<g transform="translate(3588,2533)">
<g>
<use href="#qb" y="4" stroke-dashoffset="31"/><use href="#qb" y="12" stroke-dashoffset="78"/><use href="#qb" y="20" stroke-dashoffset="118"/><use href="#qb" y="28" stroke-dashoffset="7.8"/><use href="#qb" y="35" stroke-dashoffset="196"/><use href="#qb" y="43" stroke-dashoffset="63"/><use href="#qb" y="51" stroke-dashoffset="141"/><use href="#qb" y="59" stroke-dashoffset="243"/><use href="#qb" y="67" stroke-dashoffset="24"/><use href="#qb" y="75" stroke-dashoffset="173"/><use href="#qb" y="82" stroke-dashoffset="94"/><use href="#qb" y="90" stroke-dashoffset="275"/><use href="#qb" y="98" stroke-dashoffset="47"/><use href="#qb" y="106" stroke-dashoffset="212"/><use href="#qb" y="114" stroke-dashoffset="126"/><use href="#qb" y="122" stroke-dashoffset="16"/><use href="#qb" y="130" stroke-dashoffset="306"/><use href="#qb" y="137" stroke-dashoffset="86"/><use href="#qb" y="145" stroke-dashoffset="157"/><use href="#qb" y="153" stroke-dashoffset="39"/><use href="#qb" y="161" stroke-dashoffset="228"/><use href="#qb" y="169" stroke-dashoffset="110"/><use href="#qb" y="177" stroke-dashoffset="290"/><use href="#qb" y="184" stroke-dashoffset="55"/><use href="#qb" y="192" stroke-dashoffset="188"/><use href="#qb" y="200" stroke-dashoffset="8"/><use href="#qb" y="208" stroke-dashoffset="259"/><use href="#qb" y="216" stroke-dashoffset="71"/><use href="#qb" y="224" stroke-dashoffset="149"/><use href="#qb" y="232" stroke-dashoffset="322"/><use href="#qb" y="239" stroke-dashoffset="102"/><use href="#qb" y="247" stroke-dashoffset="204"/><use href="#qb" y="255" stroke-dashoffset="31"/><use href="#qb" y="263" stroke-dashoffset="337"/><use href="#qb" y="271" stroke-dashoffset="133"/><use href="#qb" y="279" stroke-dashoffset="63"/><use href="#qb" y="286" stroke-dashoffset="251"/><use href="#qb" y="294" stroke-dashoffset="180"/><use href="#qb" y="302" stroke-dashoffset="16"/><use href="#qb" y="310" stroke-dashoffset="353"/><use href="#qb" y="318" stroke-dashoffset="94"/>
</g>
<rect x="-4" y="-4" width="68" height="68" fill="#fff"/><rect x="262" y="-4" width="66" height="68" fill="#fff"/><rect x="-4" y="262" width="68" height="66" fill="#fff"/><rect x="112" y="115" width="100" height="100" fill="#fff"/>
<g><rect width="55" height="55" rx="11"/><rect x="7.5" y="7.5" width="40" height="40" rx="8" fill="#fff"/><rect x="16" y="16" width="23" height="23" rx="8"/>
<g transform="translate(267,0)"><rect width="55" height="55" rx="11"/><rect x="7.5" y="7.5" width="40" height="40" rx="8" fill="#fff"/><rect x="16" y="16" width="23" height="23" rx="8"/></g>
<g transform="translate(0,266)"><rect width="55" height="55" rx="11"/><rect x="7.5" y="7.5" width="40" height="40" rx="8" fill="#fff"/><rect x="16" y="16" width="23" height="23" rx="8"/></g></g>
<use href="#dino" x="128" y="127" transform="translate(12,12) scale(.92)"/>
</g>
</svg>

<!-- Justified text: INSITE panel -->
<div class="j" style="left:2837px;top:493px;width:1075px">We propose a new state-of-the-art method, <b>Individualized</b></div>
<div class="j" style="left:2837px;top:538px;width:1075px"><b>Nonlinear Sparse Identification Treatment Effect (INSITE).</b></div>
<div class="j" style="left:2837px;top:582px;width:1075px">This builds upon SINDy - an ODE discovery method, to</div>
<div class="j" style="left:2837px;top:627px;width:1075px">incorporate treatment plans and between subject-variability</div>
<div class="j l" style="left:2837px;top:672px;width:1075px">(BSV).</div>
<div class="j l" style="left:2837px;top:761px;width:1075px">INSITE consists of two steps:</div>
<div class="j" style="left:2891px;top:805px;width:1021px"><b>Discover the Population Differential Equation</b> <span class="m"><b>F̄</b></span> for all</div>
<div class="j" style="left:2891px;top:851px;width:1021px">observed patients governing the patient covariates’</div>
<div class="j" style="left:2891px;top:896px;width:1021px">interaction with their outcomes. We adapt it to handle</div>
<div class="j" style="left:2891px;top:941px;width:1021px">treatments, where for each separate <span class="m"><i>k</i></span> categorical (or binary)</div>
<div class="j" style="left:2891px;top:986px;width:1021px">treatment, we discover a separate ODE—which is only active</div>
<div class="j l" style="left:2891px;top:1031px;width:1021px">for that categorical treatment, i.e. <span class="m"><b>F̄</b> = {<b>F̄</b><sub style="font-size:24px;line-height:0">1</sub>, . . . , <b>F̄</b><sub style="font-size:24px;line-height:0"><i>k</i></sub>}</span></div>
<div class="j" style="left:2891px;top:1076px;width:1021px"><b>Discovering Patient-Specific Differential Equations</b>. We</div>
<div class="j" style="left:2891px;top:1120px;width:1021px">fine tune the pop. ODE F to obtain patient-specific differential</div>
<div class="j" style="left:2891px;top:1165px;width:1021px">equations <span class="m"><b>F</b><sup style="font-size:24px;line-height:0">(<i>i</i>)</sup></span>. This allows us to model the individualized TE</div>
<div class="j l" style="left:2891px;top:1210px;width:1021px">and account for patient heterogeneity (BSV level D).</div>
<!-- Performance panel text -->
<div class="j" style="left:2886px;top:1522px;width:1026px"><i>INSITE</i>, achieves the lowest test counterfactual normalized</div>
<div class="j l" style="left:2886px;top:1569px;width:1026px">RMSE across all methods.</div>
<div class="j" style="left:2886px;top:2014px;width:1026px">INSITE maintains a low normalized RMSE (high performance)</div>
<div class="j" style="left:2886px;top:2060px;width:1026px">across long time horizons and increasing time-dependent</div>
<div class="j l" style="left:2886px;top:2105px;width:1026px">confounding.</div>
</div></body></html>
